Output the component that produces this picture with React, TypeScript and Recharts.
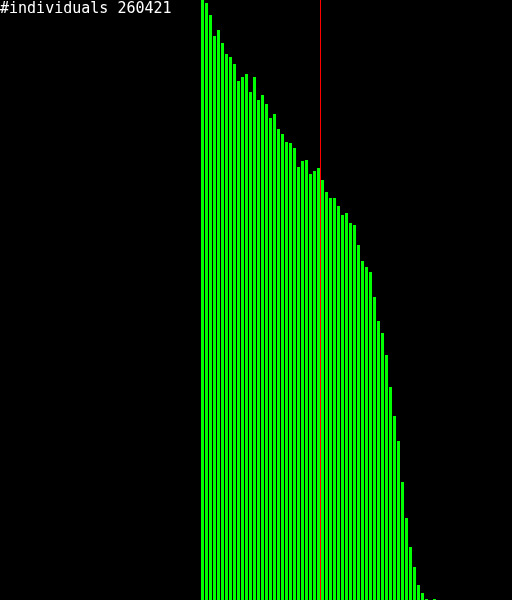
import { BarChart, Bar, XAxis, YAxis, ReferenceLine, Rectangle } from 'recharts';

// histogram bins, left to right
const counts = [
  600, 597, 585, 564, 570, 557, 546, 543, 536, 519,
  523, 526, 508, 523, 500, 505, 496, 482, 486, 471,
  466, 458, 457, 452, 433, 439, 440, 426, 429, 432,
  420, 408, 402, 402, 394, 385, 387, 377, 375, 355,
  339, 333, 328, 303, 279, 267, 245, 213, 184, 159,
  118, 82, 53, 33, 15, 7, 1, 0, 1,
];

const bins = counts.map((_, i) => i);

// red marker sits at the right edge of this bin
const markerBin = 29;

const title = '#individuals 260421';

const data = bins.map((b, i) => ({ bin: b, count: counts[i] }));

const BinShape = (props: any) => {
  const { x, y, height } = props;
  if (!height) return null;
  return (
    <Rectangle
      x={Math.round(x) + 1}
      y={Math.round(y)}
      width={3}
      height={Math.round(height)}
      fill="#00ff00"
      shapeRendering="crispEdges"
    />
  );
};

const App = () => {
  return (
    <div style={{ position: 'fixed', left: 0, top: 0, width: 512, height: 600, background: '#000' }}>
      <div style={{
        position: 'absolute',
        left: 0,
        top: 0,
        color: '#fff',
        fontFamily: '"DejaVu Sans Mono", monospace',
        fontSize: 15,
        lineHeight: '17px',
        whiteSpace: 'pre',
      }}>
        {title}
      </div>
      <BarChart
        width={512}
        height={600}
        data={data}
        margin={{ top: 0, right: 76, bottom: 0, left: 200 }}
        barCategoryGap={0}
        barGap={0}
      >
        <XAxis dataKey="bin" hide />
        <YAxis hide domain={[0, 600]} />
        <Bar dataKey="count" shape={<BinShape />} isAnimationActive={false} />
        <ReferenceLine
          x={markerBin}
          position="end"
          stroke="#ff0000"
          strokeWidth={1}
          shapeRendering="crispEdges"
        />
      </BarChart>
    </div>
  );
};

export default App;
